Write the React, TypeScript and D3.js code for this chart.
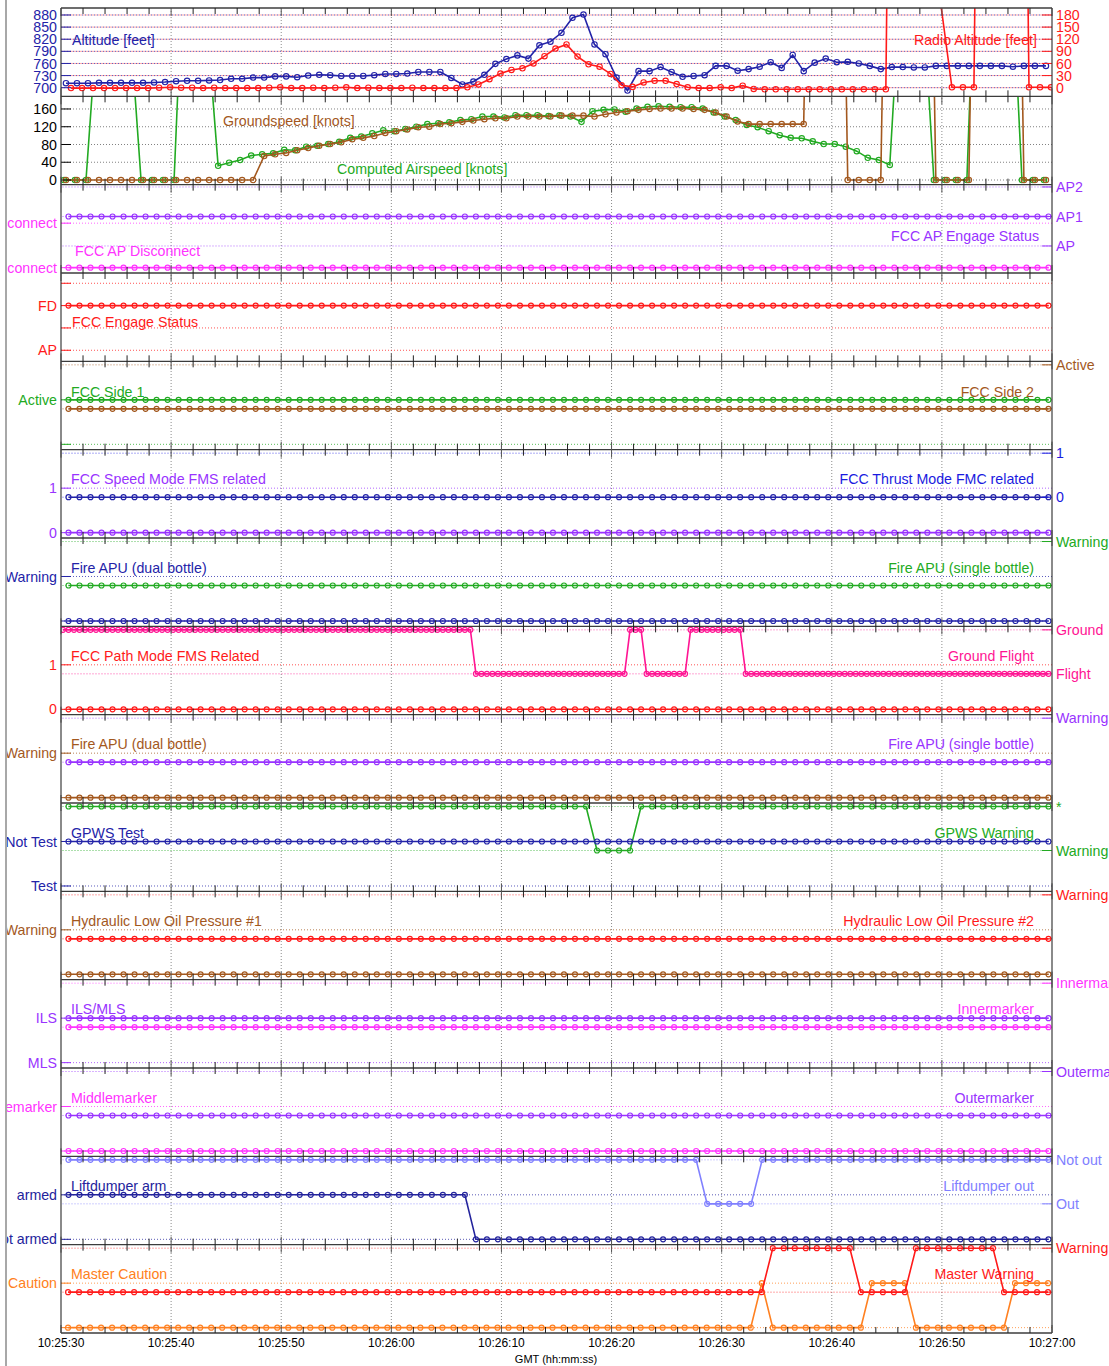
import React from "react";
import * as d3 from "d3";

// ---------------- DATA ----------------
const timeTickLabels = ["10:25:30", "10:25:40", "10:25:50", "10:26:00", "10:26:10", "10:26:20", "10:26:30", "10:26:40", "10:26:50", "10:27:00"];
const altitudeTicks = [700, 730, 760, 790, 820, 850, 880];
const radioAltitudeTicks = [0, 30, 60, 90, 120, 150, 180];
const speedTicks = [0, 40, 80, 120, 160];

// 1 Hz samples
const altitudeFt = [
  711, 711, 711, 712, 712, 712, 712, 712, 713, 714,
  716, 717, 717, 718, 719, 722, 722, 725, 725, 728,
  728, 726, 730, 732, 731, 729, 729, 729, 731, 734,
  734, 735, 739, 739, 739, 724, 708, 715, 732, 759,
  771, 780, 772, 805, 814, 836, 873, 881, 807, 783,
  725, 693, 741, 741, 751, 739, 727, 729, 731, 754,
  754, 742, 746, 752, 763, 749, 781, 741, 762, 772,
  763, 764, 760, 754, 746, 751, 751, 750, 750, 754,
  754, 754, 754, 754, 754, 754, 752, 754, 754, 754,
];
const radioAltitudeFt = [
  -1, -1, -1, -1, -1, -1, -1, -1, 0, 1,
  0, 0, -1, 0, -1, -1, -1, -1, 0, 1,
  -1, -1, 0, -1, 0, 1, -1, 0, -1, -1,
  -1, 0, -1, -1, -1, -1, 1, 8, 21, 35,
  44, 48, 60, 78, 97, 107, 77, 58, 52, 34,
  6, 2, 13, 17, 17, 9, 1, -1, -1, 1,
  -1, 5, -3, -4, -4, -4, -4, -4, -4, -4,
  -4, -4, -4, -4, -4, 2500, 2500, 2500, 2500, 205,
  1, 1, 1, 2500, 2500, 2500, 2500, 1, 1, 1,
];
const groundspeedKt = [
  0, 0, 0, 0, 0, 0, 0, 0, 0, 0,
  0, 0, 0, 0, 0, 0, 0, 0, 54, 58,
  61, 67, 72, 77, 81, 85, 92, 95, 99, 106,
  110, 114, 119, 120, 126, 128, 131, 134, 137, 139,
  139, 143, 143, 143, 143, 145, 145, 145, 143, 148,
  152, 155, 158, 160, 161, 161, 161, 160, 158, 152,
  143, 132, 126, 126, 126, 126, 126, 126, 1500, 1500,
  1500, 0, 0, 0, 0, 1500, 1500, 1500, 1500, 0,
  0, 0, 0, 1500, 1500, 1500, 1500, 0, 0, 0,
];
const computedAirspeedKt = [
  0, 0, 0, 350, 350, 350, 350, 0, 0, 0,
  0, 590, 590, 350, 32, 39, 45, 55, 58, 60,
  68, 67, 75, 77, 81, 86, 95, 98, 105, 112,
  110, 115, 120, 126, 128, 130, 135, 137, 143, 143,
  141, 146, 146, 146, 144, 146, 143, 131, 155, 158,
  159, 154, 161, 165, 166, 165, 164, 164, 161, 152,
  143, 135, 124, 119, 110, 101, 95, 94, 87, 81,
  81, 75, 65, 50, 45, 34, 460, 420, 420, 0,
  0, 0, 0, 690, 600, 600, 520, 0, 0, 0,
];

// discrete parameters, run-length [state, sample count]
const fccApDisconnect: [number, number][] = [[0, 90]];
const fccApEngageStatus: [number, number][] = [[2, 90]];
const fccEngageStatus: [number, number][] = [[2, 90]];
const fccSide1: [number, number][] = [[1, 90]];
const fccSide2: [number, number][] = [[0, 90]];
const fccSpeedMode: [number, number][] = [[0, 90]];
const fccThrustMode: [number, number][] = [[0, 90]];
const fireApuDualA: [number, number][] = [[0, 90]];
const fireApuSingleA: [number, number][] = [[0, 90]];
const fccPathMode: [number, number][] = [[0, 90]];
const groundFlight2Hz: [number, number][] = [[1, 75], [0, 28], [1, 3], [0, 8], [1, 10], [0, 56]];
const fireApuDualB: [number, number][] = [[0, 90]];
const fireApuSingleB: [number, number][] = [[0, 90]];
const gpwsTest: [number, number][] = [[1, 90]];
const gpwsWarning: [number, number][] = [[1, 48], [0, 4], [1, 38]];
const hydraulic1: [number, number][] = [[0, 90]];
const hydraulic2: [number, number][] = [[0, 90]];
const ilsMls: [number, number][] = [[1, 90]];
const innermarker: [number, number][] = [[0, 90]];
const middlemarker: [number, number][] = [[0, 90]];
const outermarker: [number, number][] = [[0, 90]];
const liftdumperArm: [number, number][] = [[1, 37], [0, 53]];
const liftdumperOut: [number, number][] = [[1, 58], [0, 5], [1, 27]];
const masterCaution: [number, number][] = [[0, 63], [1, 1], [0, 9], [1, 4], [0, 9], [1, 4]];
const masterWarning: [number, number][] = [[0, 64], [1, 8], [0, 5], [1, 8], [0, 5]];

// ---------------- LAYOUT / STYLE ----------------
const W = 1109;
const H = 1366;
const PLOT_L = 61;
const PLOT_R = 1052;
const TOP = 8;
const PH = 88.333;
const NP = 15;
const FONT = "'Liberation Sans', Arial, Helvetica, sans-serif";
const FS = 14.2;

const C = {
  blue: "#2323a8",
  red: "#ff1a1a",
  brown: "#a3581e",
  green: "#22aa22",
  purple: "#9933ff",
  magenta: "#ff33ff",
  pink: "#ff1493",
  lightBlue: "#8080ff",
  orange: "#ff8020",
  navy: "#23239c",
};

const DL: [number, number] = [-0.12, 1.865];
const DR: [number, number] = [-0.928, 1.08];

function runs(r: [number, number][]) {
  const out: number[] = [];
  r.forEach(([v, n]) => {
    for (let k = 0; k < n; k++) out.push(v);
  });
  return out;
}

type Axis = { domain: [number, number]; ticks: number[]; text: string[]; color: string; grid?: string };
type Series = { values: number[]; phase: number; dt: number; color: string; side: "L" | "R"; r?: number };
type Label = { text: string; x: number; dy: number; anchor: "start" | "end"; color: string };
type Panel = { left?: Axis; right?: Axis; series: Series[]; labels: Label[] };

const D = (values: number[], color: string, side: "L" | "R", phase = 0.68, dt = 1, r = 2.5): Series => ({ values, phase, dt, color, side, r });
const LL = (text: string, color: string, dy = 29.5): Label => ({ text, x: 71, dy, anchor: "start", color });
const RL = (text: string, color: string, dy = 29.5, x = 1034): Label => ({ text, x, dy, anchor: "end", color });

const panels: Panel[] = [
  {
    left: { domain: [678.6, 897.3], ticks: altitudeTicks, text: altitudeTicks.map(String), color: C.blue },
    right: { domain: [-21.4, 197.3], ticks: radioAltitudeTicks, text: radioAltitudeTicks.map(String), color: C.red },
    series: [D(altitudeFt, C.blue, "L", 0.45, 1, 2.7), D(radioAltitudeFt, C.red, "R", 0.91, 1, 2.7)],
    labels: [{ text: "Altitude [feet]", x: 72, dy: 31.5, anchor: "start", color: C.blue }, RL("Radio Altitude [feet]", C.red, 31.5, 1037)],
  },
  {
    left: { domain: [-10.5, 188.5], ticks: speedTicks, text: speedTicks.map(String), color: "#000", grid: "#555" },
    series: [D(computedAirspeedKt, C.green, "L", 0.27, 1, 2.7), D(groundspeedKt, C.brown, "L", 0.45, 1, 2.7)],
    labels: [{ text: "Groundspeed [knots]", x: 223, dy: 24.7, anchor: "start", color: C.brown }, { text: "Computed Airspeed [knots]", x: 337, dy: 72.7, anchor: "start", color: C.green }],
  },
  {
    left: { domain: DL, ticks: [0, 1], text: ["No Disconnect", "Disconnect"], color: C.magenta },
    right: { domain: [0.084, 3.078], ticks: [1, 2, 3], text: ["AP", "AP1", "AP2"], color: C.purple },
    series: [D(runs(fccApDisconnect), C.magenta, "L"), D(runs(fccApEngageStatus), C.purple, "R")],
    labels: [{ text: "FCC AP Disconnect", x: 75, dy: 66.3, anchor: "start", color: C.magenta }, RL("FCC AP Engage Status", C.purple, 51.3, 1039)],
  },
  {
    left: { domain: [-0.495, 3.46], ticks: [0, 1, 2, 3], text: ["AP", "", "FD", ""], color: C.red },
    series: [D(runs(fccEngageStatus), C.red, "L")],
    labels: [{ text: "FCC Engage Status", x: 72, dy: 48.7, anchor: "start", color: C.red }],
  },
  {
    left: { domain: DL, ticks: [0, 1], text: ["", "Active"], color: C.green },
    right: { domain: DR, ticks: [0, 1], text: ["", "Active"], color: C.brown },
    series: [D(runs(fccSide1), C.green, "L"), D(runs(fccSide2), C.brown, "R")],
    labels: [LL("FCC Side 1", C.green, 30.7), RL("FCC Side 2", C.brown, 30.7)],
  },
  {
    left: { domain: DL, ticks: [0, 1], text: ["0", "1"], color: C.purple },
    right: { domain: DR, ticks: [0, 1], text: ["0", "1"], color: "#1a1ae0" },
    series: [D(runs(fccSpeedMode), C.purple, "L"), D(runs(fccThrustMode), C.blue, "R")],
    labels: [LL("FCC Speed Mode FMS related", C.purple), RL("FCC Thrust Mode FMC related", "#1a1ae0")],
  },
  {
    left: { domain: DL, ticks: [0, 1], text: ["", "Warning"], color: C.blue },
    right: { domain: DR, ticks: [0, 1], text: ["", "Warning"], color: C.green },
    series: [D(runs(fireApuSingleA), C.green, "R"), D(runs(fireApuDualA), C.blue, "L")],
    labels: [LL("Fire APU (dual bottle)", C.blue), RL("Fire APU (single bottle)", C.green)],
  },
  {
    left: { domain: DL, ticks: [0, 1], text: ["0", "1"], color: C.red },
    right: { domain: DR, ticks: [0, 1], text: ["Flight", "Ground"], color: C.pink },
    series: [D(runs(fccPathMode), C.red, "L"), D(runs(groundFlight2Hz), C.pink, "R", 0.18, 0.5, 2.5)],
    labels: [LL("FCC Path Mode FMS Related", C.red), RL("Ground Flight", C.pink)],
  },
  {
    left: { domain: DL, ticks: [0, 1], text: ["", "Warning"], color: C.brown },
    right: { domain: DR, ticks: [0, 1], text: ["", "Warning"], color: C.purple },
    series: [D(runs(fireApuSingleB), C.purple, "R"), D(runs(fireApuDualB), C.brown, "L")],
    labels: [LL("Fire APU (dual bottle)", C.brown), RL("Fire APU (single bottle)", C.purple)],
  },
  {
    left: { domain: DL, ticks: [0, 1], text: ["Test", "Not Test"], color: C.blue },
    right: { domain: DR, ticks: [0, 1], text: ["Warning", "*"], color: C.green },
    series: [D(runs(gpwsWarning), C.green, "R"), D(runs(gpwsTest), C.blue, "L")],
    labels: [LL("GPWS Test", C.blue), RL("GPWS Warning", C.green)],
  },
  {
    left: { domain: DL, ticks: [0, 1], text: ["", "Warning"], color: C.brown },
    right: { domain: DR, ticks: [0, 1], text: ["", "Warning"], color: C.red },
    series: [D(runs(hydraulic2), C.red, "R"), D(runs(hydraulic1), C.brown, "L")],
    labels: [LL("Hydraulic Low Oil Pressure #1", C.brown), RL("Hydraulic Low Oil Pressure #2", C.red)],
  },
  {
    left: { domain: DL, ticks: [0, 1], text: ["MLS", "ILS"], color: C.purple },
    right: { domain: DR, ticks: [0, 1], text: ["", "Innermarker"], color: C.magenta },
    series: [D(runs(innermarker), C.magenta, "R"), D(runs(ilsMls), C.purple, "L")],
    labels: [LL("ILS/MLS", C.purple), RL("Innermarker", C.magenta)],
  },
  {
    left: { domain: DL, ticks: [0, 1], text: ["", "Middlemarker"], color: C.magenta },
    right: { domain: DR, ticks: [0, 1], text: ["", "Outermarker"], color: C.purple },
    series: [D(runs(outermarker), C.purple, "R"), D(runs(middlemarker), C.magenta, "L")],
    labels: [LL("Middlemarker", C.magenta), RL("Outermarker", C.purple)],
  },
  {
    left: { domain: DL, ticks: [0, 1], text: ["Not armed", "armed"], color: C.navy },
    right: { domain: DR, ticks: [0, 1], text: ["Out", "Not out"], color: C.lightBlue },
    series: [D(runs(liftdumperOut), C.lightBlue, "R"), D(runs(liftdumperArm), C.navy, "L")],
    labels: [LL("Liftdumper arm", C.navy), RL("Liftdumper out", C.lightBlue)],
  },
  {
    left: { domain: DL, ticks: [0, 1], text: ["", "Caution"], color: C.orange },
    right: { domain: DR, ticks: [0, 1], text: ["", "Warning"], color: C.red },
    series: [D(runs(masterCaution), C.orange, "L", 0.64), D(runs(masterWarning), C.red, "R", 0.64)],
    labels: [LL("Master Caution", C.orange), RL("Master Warning", C.red)],
  },
];

export default function App() {
  const parse = d3.timeParse("%H:%M:%S");
  const tickDates = timeTickLabels.map((s) => parse(s) as Date);
  const t0 = tickDates[0].getTime();
  const x = d3.scaleTime().domain([tickDates[0], tickDates[tickDates.length - 1]]).range([PLOT_L, PLOT_R]);
  const minor = x.ticks(d3.timeSecond.every(2) as d3.TimeInterval);
  const majorSet = new Set(tickDates.map((d) => d.getTime()));
  const line = d3.line<[number, number]>().x((d) => d[0]).y((d) => d[1]);
  const bottomY = TOP + NP * PH;

  return (
    <svg width={W} height={H} style={{ position: "absolute", left: 0, top: 0, background: "#fff" }} fontFamily={FONT}>
      <defs>
        <clipPath id="leftText">
          <rect x={7} y={0} width={60} height={H} />
        </clipPath>
        {panels.map((_, k) => (
          <clipPath id={`pc${k}`} key={k}>
            <rect x={PLOT_L} y={TOP + k * PH} width={PLOT_R - PLOT_L} height={PH} />
          </clipPath>
        ))}
      </defs>
      <rect x={0} y={0} width={W} height={H} fill="#fff" />
      <line x1={6} x2={6} y1={0} y2={H} stroke="#a8a8a8" strokeWidth={2} />

      {/* vertical grid */}
      {tickDates.slice(1, -1).map((d, i) => (
        <line key={i} x1={x(d)} x2={x(d)} y1={TOP} y2={bottomY} stroke="#8c8c8c" strokeWidth={1} strokeDasharray="1 2" />
      ))}

      {panels.map((p, k) => {
        const top = TOP + k * PH;
        const bot = top + PH;
        const yL = p.left ? d3.scaleLinear().domain(p.left.domain).range([bot, top]) : null;
        const yR = p.right ? d3.scaleLinear().domain(p.right.domain).range([bot, top]) : null;
        return (
          <g key={k}>
            {/* horizontal grid */}
            {p.left && yL && p.left.ticks.map((t, i) => (
              <line key={`gl${i}`} x1={PLOT_L} x2={PLOT_R} y1={yL(t)} y2={yL(t)} stroke={p.left!.grid || p.left!.color} strokeOpacity={0.75} strokeWidth={1} strokeDasharray="1 2" />
            ))}
            {p.right && yR && p.right.ticks.map((t, i) => (
              <line key={`gr${i}`} x1={PLOT_L} x2={PLOT_R} y1={yR(t)} y2={yR(t)} stroke={p.right!.grid || p.right!.color} strokeOpacity={0.75} strokeWidth={1} strokeDasharray="1 2" strokeDashoffset={1.5} />
            ))}
            {/* series */}
            <g clipPath={`url(#pc${k})`}>
              {p.series.map((s, si) => {
                const ys = s.side === "L" ? yL! : yR!;
                const pts: [number, number][] = s.values.map((v, i) => [x(new Date(t0 + (s.phase + i * s.dt) * 1000)), ys(v)]);
                return (
                  <g key={si}>
                    <path d={line(pts) || ""} fill="none" stroke={s.color} strokeWidth={1.6} />
                    {pts.map((pt, i) => (
                      <circle key={i} cx={pt[0]} cy={pt[1]} r={s.r || 2.5} fill="none" stroke={s.color} strokeWidth={1.15} />
                    ))}
                  </g>
                );
              })}
            </g>
            {/* axis ticks & labels */}
            {p.left && yL && p.left.ticks.map((t, i) => (
              <g key={`tl${i}`}>
                <line x1={PLOT_L} x2={PLOT_L + 10} y1={yL(t)} y2={yL(t)} stroke={p.left!.color} strokeWidth={1} />
                <text x={57} y={yL(t)} dy="0.36em" textAnchor="end" fontSize={FS} fill={p.left!.color} clipPath="url(#leftText)">
                  {p.left!.text[i]}
                </text>
              </g>
            ))}
            {p.right && yR && p.right.ticks.map((t, i) => (
              <g key={`tr${i}`}>
                <line x1={PLOT_R - 10} x2={PLOT_R} y1={yR(t)} y2={yR(t)} stroke={p.right!.color} strokeWidth={1} />
                <text x={1056} y={yR(t)} dy="0.36em" textAnchor="start" fontSize={FS} fill={p.right!.color}>
                  {p.right!.text[i]}
                </text>
              </g>
            ))}
            {p.labels.map((l, i) => (
              <text key={`lb${i}`} x={l.x} y={top + l.dy} dy="0.36em" textAnchor={l.anchor} fontSize={FS} fill={l.color}>
                {l.text}
              </text>
            ))}
          </g>
        );
      })}

      {/* panel separators with time ticks */}
      {d3.range(NP + 1).map((k) => {
        const y = TOP + k * PH;
        return (
          <g key={`sep${k}`}>
            <line x1={PLOT_L} x2={PLOT_R} y1={y} y2={y} stroke="#3c3c3c" strokeWidth={1.3} />
            {minor.map((d, i) => {
              const major = majorSet.has(d.getTime());
              const len = major ? 8 : 6;
              const up = k > 0 ? y - len : y;
              const down = k < NP ? y + len : y;
              return <line key={i} x1={x(d)} x2={x(d)} y1={up} y2={down} stroke={major ? "#555" : "#222"} strokeWidth={1} />;
            })}
          </g>
        );
      })}
      <line x1={PLOT_L} x2={PLOT_L} y1={TOP} y2={bottomY} stroke="#3c3c3c" strokeWidth={1.2} />
      <line x1={PLOT_R} x2={PLOT_R} y1={TOP} y2={bottomY} stroke="#3c3c3c" strokeWidth={1.2} />

      {/* time axis labels */}
      {tickDates.map((d, i) => (
        <text key={i} x={x(d)} y={1343} dy="0.36em" textAnchor="middle" fontSize={12} fill="#000">
          {timeTickLabels[i]}
        </text>
      ))}
      <text x={556} y={1359} dy="0.36em" textAnchor="middle" fontSize={11} fill="#000">
        GMT (hh:mm:ss)
      </text>
    </svg>
  );
}
